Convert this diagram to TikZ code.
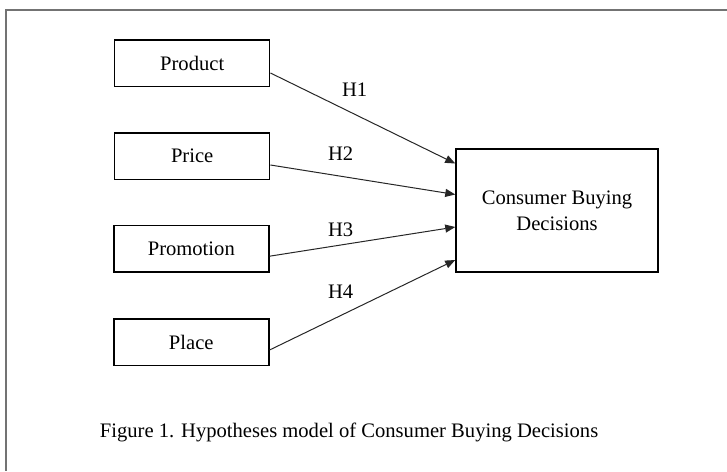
\documentclass[tikz,border=0pt]{standalone}
\usepackage{fontspec}
\setmainfont{Liberation Serif}
\usetikzlibrary{arrows.meta}
\begin{document}
\begin{tikzpicture}[x=1pt,y=-1pt,
  factor/.style={draw=black,line width=1.5pt,minimum width=155pt,minimum height=46.5pt,inner sep=0pt,font=\fontsize{20.6}{24}\selectfont},
  target/.style={draw=black,line width=1.5pt,minimum width=202pt,minimum height=123pt,inner sep=0pt,align=center,font=\fontsize{20.6}{26}\selectfont},
  hyp/.style={-{Triangle[length=10pt,width=8pt]},line width=1pt,draw=black!85},
  lab/.style={inner sep=0pt,font=\fontsize{20.6}{24}\selectfont},
  frame/.style={draw=black!55,line width=2pt}]
\useasboundingbox (0,0) rectangle (727,471);
\coordinate (ftop) at (727,10);
\coordinate (fcorner) at (6,10);
\coordinate (fbot) at (6,471);
\draw[frame] (ftop) -- (fcorner) -- (fbot);
\node[factor] (prod) at (192.2,63.3) {Product};
\node[factor] (price) at (192.2,156) {Price};
\node[factor] (promo) at (191.3,248.7) {Promotion};
\node[factor] (place) at (191.3,342) {Place};
\node[target] (cbd) at (557,210.5) {Consumer Buying\\Decisions};
\draw[hyp] ([yshift=-9.7pt]prod.east) -- ([yshift=47pt]cbd.west);
\draw[hyp] ([yshift=-9pt]price.east) -- ([yshift=16pt]cbd.west);
\draw[hyp] ([yshift=-7.5pt]promo.east) -- ([yshift=-16.5pt]cbd.west);
\draw[hyp] ([yshift=-8pt]place.east) -- ([yshift=-49.5pt]cbd.west);
\node[lab] (h1) at (354.7,90) {H1};
\node[lab] (h2) at (340.7,153.3) {H2};
\node[lab] (h3) at (340.7,230) {H3};
\node[lab] (h4) at (340.7,291.7) {H4};
\node[lab,anchor=west] (cap) at (99.7,432) {Figure 1. Hypotheses model of Consumer Buying Decisions};
\end{tikzpicture}
\end{document}
